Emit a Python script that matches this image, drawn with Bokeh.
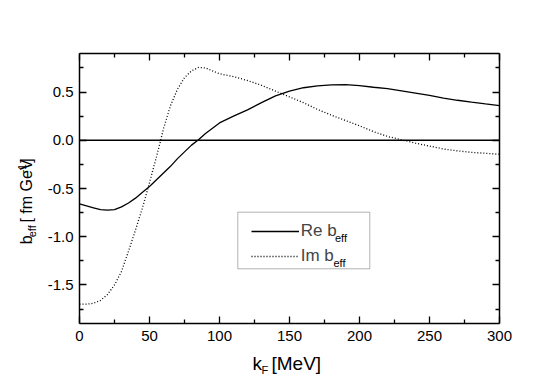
import math
from bokeh.plotting import figure
from bokeh.layouts import row, column
from bokeh.models import (LinearAxis, FixedTicker, Span, Label, Legend, LegendItem,
                          BoxAnnotation, Range1d)
from bokeh.core.properties import value
from bokeh.embed import file_html
from bokeh.resources import INLINE

# ---------------- data ----------------
kf_re = [0, 5, 10, 15, 20, 25, 30, 35, 40, 45, 50, 55, 60, 65, 70, 75, 80, 85, 90, 95,
         100, 110, 120, 130, 140, 150, 160, 170, 180, 190, 200, 210, 220, 230, 240, 250,
         260, 270, 280, 290, 300]
re_beff = [-0.66, -0.68, -0.70, -0.72, -0.725, -0.72, -0.69, -0.65, -0.60, -0.54, -0.48,
           -0.41, -0.34, -0.27, -0.19, -0.12, -0.05, 0.005, 0.07, 0.125,
           0.18, 0.25, 0.315, 0.39, 0.46, 0.51, 0.545, 0.565, 0.575, 0.577, 0.567, 0.55,
           0.535, 0.513, 0.49, 0.465, 0.437, 0.415, 0.395, 0.377, 0.36]

kf_im = [0, 5, 10, 15, 20, 25, 30, 35, 40, 45, 50, 55, 58, 60, 65, 70, 75, 80, 85, 90, 95,
         100, 110, 120, 130, 140, 150, 160, 170, 180, 190, 200, 210, 220, 230, 240, 250,
         260, 270, 280, 290, 300]
im_beff = [-1.70, -1.70, -1.69, -1.66, -1.60, -1.50, -1.36, -1.15, -0.93, -0.70, -0.44,
           -0.17, 0.0, 0.12, 0.36, 0.53, 0.65, 0.72, 0.755, 0.75, 0.72,
           0.69, 0.66, 0.62, 0.57, 0.51, 0.45, 0.39, 0.32, 0.26, 0.205, 0.15, 0.09,
           0.04, 0.005, -0.03, -0.06, -0.09, -0.11, -0.125, -0.135, -0.145]

x_ticks = [0, 50, 100, 150, 200, 250, 300]
x_minor = [25, 75, 125, 175, 225, 275]
y_ticks = [-1.5, -1.0, -0.5, 0.0, 0.5]
y_tick_labels = ["-1.5", "-1.0", "-0.5", "0.0", "0.5"]
y_minor = [-1.75, -1.25, -0.75, -0.25, 0.25, 0.75]
x_lim = (0, 300)
y_lim = (-1.9, 0.9)
zero_level = 0.0
series_names = ["Re b", "Im b"]
x_label_parts = ["k", "F", "[MeV]"]
y_label_parts = ["b", "eff", "[ fm GeV", "-1", "]"]
subscript = "eff"

FONT = "Liberation Sans"
TOTAL_W, TOTAL_H = 549, 382
LW = 40          # width of the left strip holding the y label
BH = 33          # height of the bottom strip holding the x label
MW, MH = TOTAL_W - LW, TOTAL_H - BH
# page geometry of the frame
FL, FR, FT, FB = 79, 499, 53, 323

p = figure(width=MW, height=MH, output_backend="svg", toolbar_location=None,
           x_range=Range1d(*x_lim), y_range=Range1d(*y_lim),
           min_border_left=FL - LW, min_border_right=MW - (FR - LW),
           min_border_top=FT, min_border_bottom=MH - FB)
p.xgrid.visible = False
p.ygrid.visible = False
p.outline_line_color = None
p.background_fill_color = "white"
p.border_fill_color = "white"


def style_axis(ax, ticks, minor, show_labels):
    ax.ticker = FixedTicker(ticks=ticks, minor_ticks=minor)
    ax.axis_line_color = "black"
    ax.axis_line_width = 1.5
    ax.major_tick_in = 7
    ax.major_tick_out = 0
    ax.minor_tick_in = 4
    ax.minor_tick_out = 0
    ax.major_tick_line_color = "black"
    ax.minor_tick_line_color = "black"
    ax.major_tick_line_width = 1.3
    ax.minor_tick_line_width = 1.3
    ax.major_label_text_font = FONT
    ax.major_label_text_font_size = "15px"
    ax.major_label_text_color = "black"
    ax.major_label_standoff = 7
    if not show_labels:
        ax.major_label_overrides = {t: "" for t in ticks}
        ax.major_label_standoff = 0


style_axis(p.xaxis[0], x_ticks, x_minor, True)
style_axis(p.yaxis[0], y_ticks, y_minor, True)
p.yaxis[0].major_label_standoff = 6
p.yaxis[0].major_label_overrides = {t: s for t, s in zip(y_ticks, y_tick_labels)}

top_ax = LinearAxis()
style_axis(top_ax, x_ticks, x_minor, False)
p.add_layout(top_ax, "above")
right_ax = LinearAxis()
style_axis(right_ax, y_ticks, y_minor, False)
p.add_layout(right_ax, "right")

p.add_layout(Span(location=zero_level, dimension="width", line_color="black", line_width=1.6))

r_re = p.line(kf_re, re_beff, line_color="black", line_width=1.3)
r_im = p.line(kf_im, im_beff, line_color="black", line_width=1.3, line_dash="1 2")


def sx(px):
    return px - FL


def sy(py):
    return FB - py


# legend box
p.add_layout(BoxAnnotation(left=sx(237.3), right=sx(369.3), top=sy(211.7), bottom=sy(268.3),
                           left_units="screen", right_units="screen",
                           top_units="screen", bottom_units="screen",
                           fill_color="white", fill_alpha=1.0,
                           line_color="black", line_width=1.0))

legend = Legend(items=[LegendItem(label=series_names[0], renderers=[r_re]),
                       LegendItem(label=series_names[1], renderers=[r_im])],
                location=(sx(250.7), sy(265.5)),
                border_line_color=None, background_fill_alpha=0.0,
                padding=0, margin=0, spacing=5,
                glyph_width=48, glyph_height=20, label_height=20, label_standoff=2,
                label_text_font=FONT, label_text_font_size="17px")
p.add_layout(legend)

for bx, by in [(334.5, 237.2), (333.0, 262.9)]:
    p.add_layout(Label(x=sx(bx), y=sy(by), x_units="screen", y_units="screen",
                       text=subscript, text_font=FONT, text_font_size="11px",
                       text_color="black", text_align="left", text_baseline="middle"))


def strip(w, h):
    f = figure(width=w, height=h, output_backend="svg", toolbar_location=None,
               x_range=Range1d(0, w), y_range=Range1d(0, h),
               x_axis_type=None, y_axis_type=None,
               min_border=0, min_border_left=0, min_border_right=0,
               min_border_top=0, min_border_bottom=0)
    f.xgrid.visible = False
    f.ygrid.visible = False
    f.outline_line_color = None
    f.background_fill_color = "white"
    f.border_fill_color = "white"
    return f


def put(f, fh, oy, px, py, text, size, angle=0.0):
    # px, py: page position of the text's start, at the middle of its em box
    f.text(x=[px], y=[fh - (py - oy)], text=[text], text_font=value(FONT),
           text_font_size=value(size), text_color="black", text_align="left",
           text_baseline="middle", angle=angle)


# left strip: rotated y label (reads upwards)
ys = strip(LW, MH)
A = math.pi / 2
put(ys, MH, 0, 26.1, 246.5, y_label_parts[0], "16px", A)
put(ys, MH, 0, 31.7, 237.6, y_label_parts[1], "11px", A)
put(ys, MH, 0, 26.1, 218.5, y_label_parts[2], "16px", A)
put(ys, MH, 0, 21.5, 154.5, y_label_parts[3], "10px", A)
put(ys, MH, 0, 26.1, 141.2, y_label_parts[4], "16px", A)

# bottom strip: x label
xs = strip(TOTAL_W, BH)
put(xs, BH, MH, 252.0, 363.4, x_label_parts[0], "19px")
put(xs, BH, MH, 261.0, 369.6, x_label_parts[1], "11px")
put(xs, BH, MH, 271.0, 363.4, x_label_parts[2], "19px")

layout = column(row(ys, p, spacing=0), xs, spacing=0)
open("out.html", "w").write(file_html(layout, INLINE))
